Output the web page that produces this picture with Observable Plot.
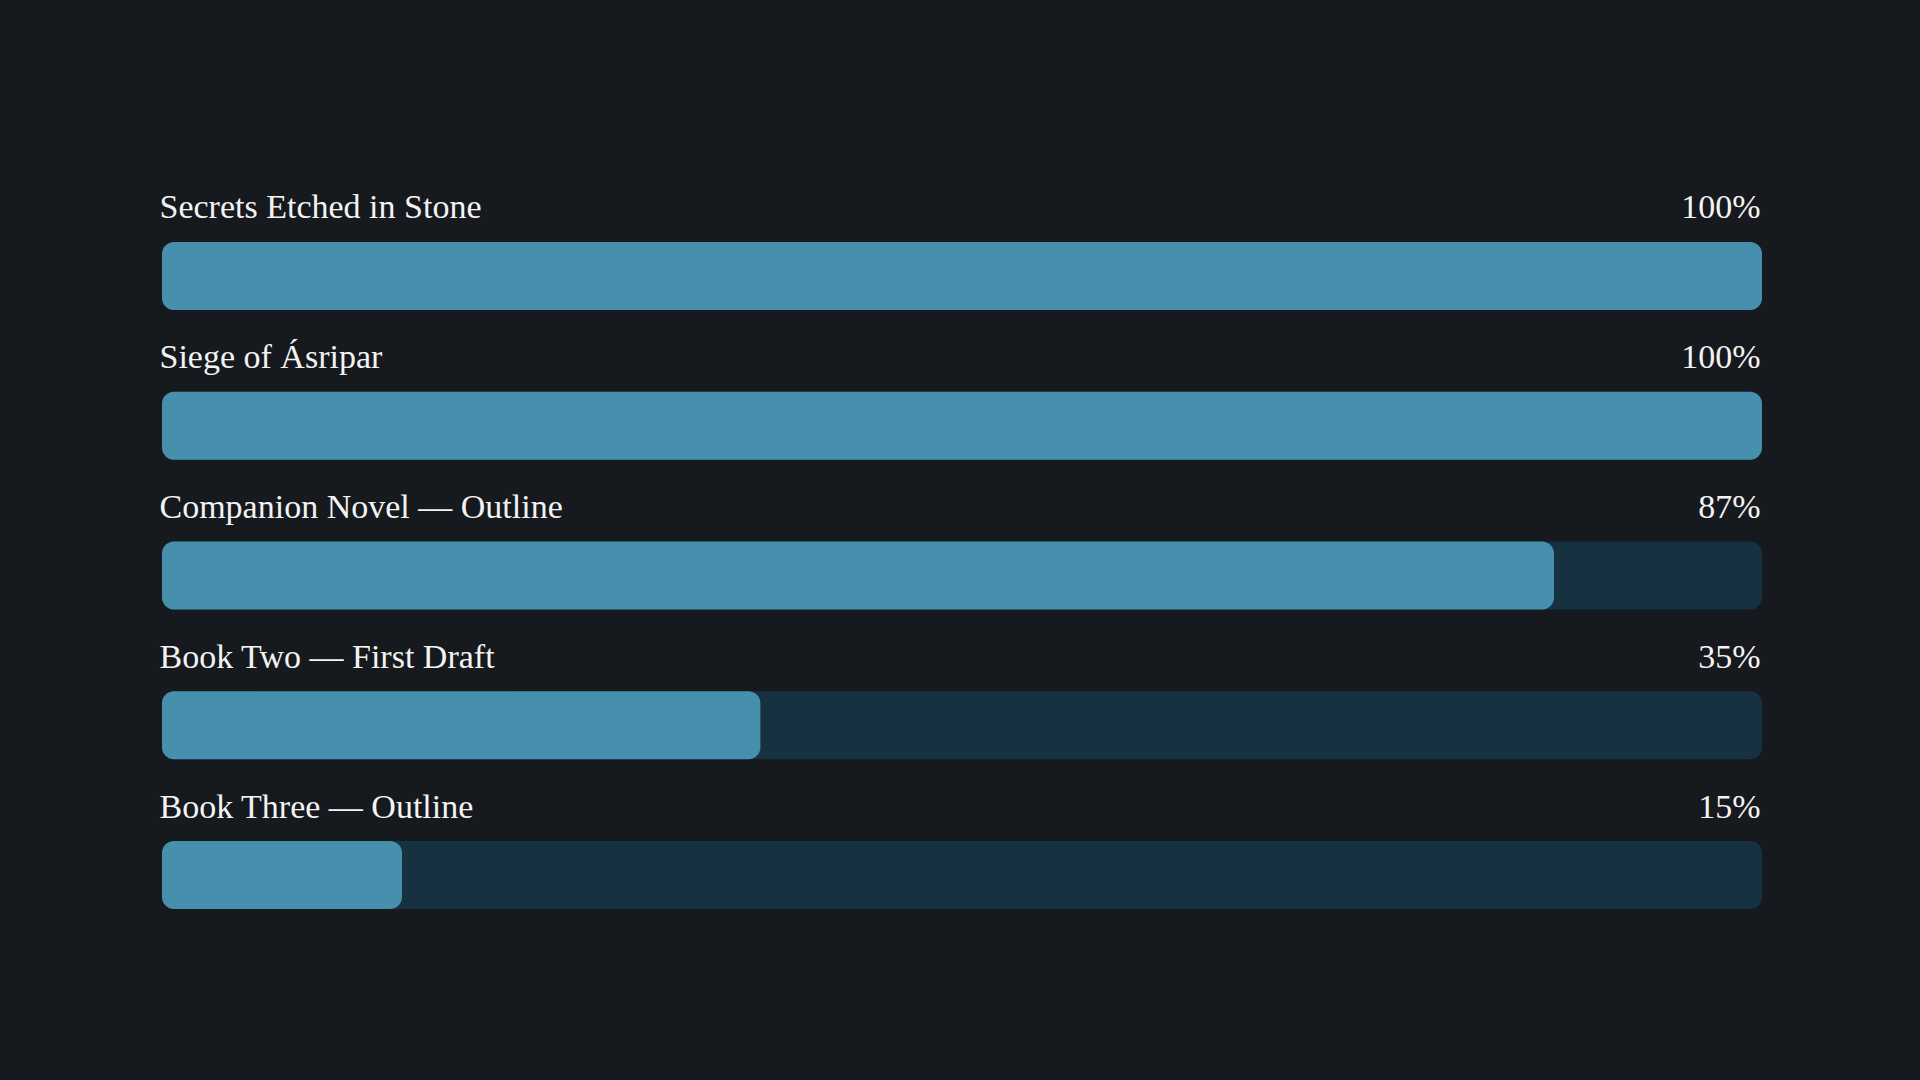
<!DOCTYPE html>
<html>
<head>
<meta charset="utf-8">
<script src="https://cdn.jsdelivr.net/npm/d3@7"></script>
<script src="https://cdn.jsdelivr.net/npm/@observablehq/plot@0.6"></script>
<style>
  html, body { margin: 0; padding: 0; background: #16191d; }
  #chart { width: 1920px; height: 1080px; }
</style>
</head>
<body>
<div id="chart"></div>
<script>
const projects = [
  "Secrets Etched in Stone",
  "Siege of Ásripar",
  "Companion Novel — Outline",
  "Book Two — First Draft",
  "Book Three — Outline"
];
// bar lengths as drawn in the picture (percent of full track)
const barLength = [100, 100, 87, 37.4, 15];
// percent labels as printed
const percentLabels = ["100%", "100%", "87%", "35%", "15%"];

const rows = projects.map((name, i) => ({name, pct: barLength[i], label: percentLabels[i]}));

const textStyle = {
  fill: "#f3f3f3",
  fontFamily: "'Liberation Serif', 'DejaVu Serif', serif",
  fontSize: 34,
  lineAnchor: "bottom",
  dy: -58
};

const chart = Plot.plot({
  width: 1920,
  height: 1080,
  marginLeft: 162,
  marginRight: 158,
  marginTop: 242,
  marginBottom: 171,
  style: {background: "#16191d", overflow: "visible"},
  x: {domain: [0, 100], axis: null},
  y: {type: "band", domain: projects, axis: null, paddingInner: 0.546, paddingOuter: 0, round: false},
  marks: [
    Plot.barX(rows, {y: "name", x1: 0, x2: 100, fill: "#163140", rx: 12}),
    Plot.barX(rows, {y: "name", x1: 0, x2: "pct", fill: "#4690ad", rx: 12}),
    Plot.text(rows, {y: "name", text: "name", frameAnchor: "left", textAnchor: "start", dx: -3, ...textStyle}),
    Plot.text(rows, {y: "name", text: "label", frameAnchor: "right", textAnchor: "end", dx: -2, ...textStyle})
  ]
});
document.getElementById("chart").appendChild(chart);
</script>
</body>
</html>
